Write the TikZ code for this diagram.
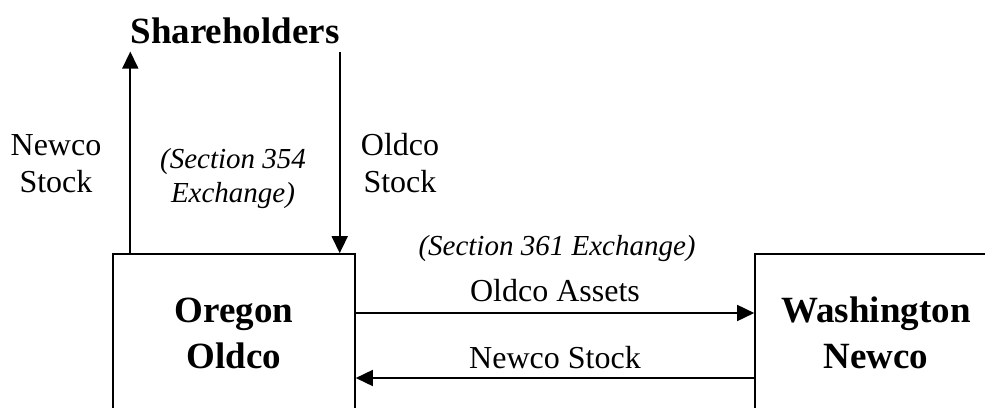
\documentclass[tikz,border=0pt]{standalone}
\usepackage{fontspec}
\setmainfont{Liberation Serif}
\usetikzlibrary{arrows.meta,positioning,calc}

\begin{document}
\begin{tikzpicture}[x=1pt,y=-1pt,>={Triangle[length=17pt,width=16pt]}]
\tikzset{
firm/.style={draw=black,line width=1.6pt,minimum width=242pt,minimum height=158pt,inner sep=0pt,
font=\rmfamily\bfseries\fontsize{37}{46}\selectfont,align=center},
owner/.style={inner sep=0pt,font=\rmfamily\bfseries\fontsize{37}{46}\selectfont},
lab/.style={inner sep=0pt,font=\rmfamily\fontsize{32}{37}\selectfont,align=center},
note/.style={inner sep=0pt,font=\rmfamily\itshape\fontsize{29}{34}\selectfont,align=center},
flow/.style={->,draw=black,line width=1.6pt}
}
\clip (0,0) rectangle (985,407);

\node[firm] (oregon) at (234,333) {Oregon\\Oldco};
\node[firm] (wash) at (876,333) {Washington\\Newco};
\node[owner,anchor=base] (holders) at (235,43) {Shareholders};

% shareholders exchange
\draw[flow] (oregon.north -| holders.south west) -- ([yshift=-8pt]holders.south west);
\draw[flow] ([yshift=-8pt]holders.south east) -- (holders.south east |- oregon.north);
\node[lab,anchor=base] (newstk) at (56,192) {Newco\\Stock};
\node[lab,anchor=base] (oldstk) at (400,192) {Oldco\\Stock};
\node[note,anchor=base] (sec354) at (233,202) {(Section 354\\Exchange)};

% asset exchange
\node[note,anchor=base] (sec361) at (557,255) {(Section 361 Exchange)};
\draw[flow] ([yshift=20pt]oregon.east) -- ([yshift=20pt]wash.west)
  node[lab,midway,above=10pt] (assets) {Oldco Assets};
\draw[flow] ([yshift=-45pt]wash.west) -- ([yshift=-45pt]oregon.east)
  node[lab,midway,above=8pt] (newco) {Newco Stock};
\end{tikzpicture}
\end{document}
